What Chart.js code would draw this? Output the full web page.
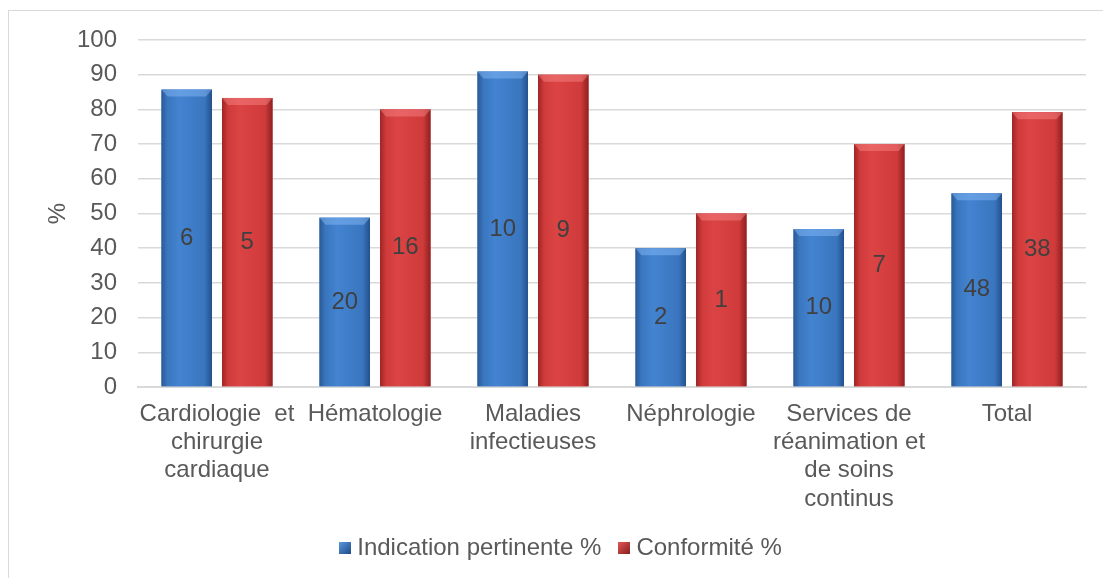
<!DOCTYPE html>
<html>
<head>
<meta charset="utf-8">
<script src="https://cdn.jsdelivr.net/npm/chart.js@4/dist/chart.umd.min.js"></script>
<style>
  html, body { margin: 0; padding: 0; background: #fff; }
  #frame { position: absolute; left: 8px; top: 10px; width: 1100px; height: 580px; border: 1px solid #d9d9d9; box-sizing: border-box; }
  #wrap { position: absolute; left: 0; top: 0; width: 1103px; height: 578px; }
</style>
</head>
<body>
<div id="frame"></div>
<div id="wrap"><canvas id="chart"></canvas></div>
<script>
// services
const categories = [
  ['Cardiologie  et', 'chirurgie', 'cardiaque'],
  ['Hématologie'],
  ['Maladies', 'infectieuses'],
  ['Néphrologie'],
  ['Services de', 'réanimation et', 'de soins', 'continus'],
  ['Total']
];
// percentages
const indicationPct = [85.7, 48.8, 90.9, 40, 45.5, 55.8];
const conformitePct = [83.3, 80, 90, 50, 70, 79.2];
// counts printed inside the bars
const indicationN = [6, 20, 10, 2, 10, 48];
const conformiteN = [5, 16, 9, 1, 7, 38];
const yTicks = [0, 10, 20, 30, 40, 50, 60, 70, 80, 90, 100];

const FONT = "'Liberation Sans', Arial, sans-serif";
const TEXT = '#595959';
const SIZE = 24;

// bevelled look on top of each bar
const bevelBars = {
  id: 'bevelBars',
  afterDatasetsDraw(chart) {
    const ctx = chart.ctx;
    const shades = [
      ['#2a5a96', '#4383d0', '#3a76bf', '#23508a'],
      ['#9e2626', '#dc4444', '#cf3a3a', '#8e2020']
    ];
    chart.data.datasets.forEach((ds, i) => {
      const meta = chart.getDatasetMeta(i);
      const s = shades[i];
      meta.data.forEach(bar => {
        const x0 = bar.x - bar.width / 2, x1 = bar.x + bar.width / 2;
        const top = bar.y, bottom = bar.base;
        const g = ctx.createLinearGradient(x0, 0, x1, 0);
        g.addColorStop(0, s[0]);
        g.addColorStop(0.12, s[2]);
        g.addColorStop(0.35, s[1]);
        g.addColorStop(0.85, s[2]);
        g.addColorStop(1, s[3]);
        ctx.save();
        ctx.fillStyle = g;
        ctx.fillRect(x0, top, x1 - x0, bottom - top);
        // top bevel
        ctx.beginPath();
        ctx.moveTo(x0, top);
        ctx.lineTo(x1, top);
        ctx.lineTo(x1 - 6, top + 7);
        ctx.lineTo(x0 + 6, top + 7);
        ctx.closePath();
        ctx.fillStyle = i === 0 ? 'rgba(140,190,250,0.45)' : 'rgba(250,140,140,0.45)';
        ctx.fill();
        ctx.restore();
      });
    });
  }
};

// counts written in the middle of the bars
const barCounts = {
  id: 'barCounts',
  afterDatasetsDraw(chart) {
    const ctx = chart.ctx;
    const counts = [indicationN, conformiteN];
    ctx.save();
    ctx.font = SIZE + 'px ' + FONT;
    ctx.fillStyle = '#404040';
    ctx.textAlign = 'center';
    ctx.textBaseline = 'middle';
    chart.data.datasets.forEach((ds, i) => {
      chart.getDatasetMeta(i).data.forEach((bar, j) => {
        ctx.fillText(String(counts[i][j]), bar.x, (bar.y + bar.base) / 2);
      });
    });
    ctx.restore();
  }
};

function legendBox(color1, color2) {
  const c = document.createElement('canvas');
  c.width = 12; c.height = 12;
  const x = c.getContext('2d');
  const g = x.createLinearGradient(0, 0, 12, 12);
  g.addColorStop(0, color1);
  g.addColorStop(1, color2);
  x.fillStyle = g;
  x.fillRect(0, 0, 12, 12);
  return c;
}

new Chart(document.getElementById('chart'), {
  type: 'bar',
  data: {
    labels: categories,
    datasets: [
      { label: 'Indication pertinente %', data: indicationPct, backgroundColor: '#3a76bf',
        pointStyle: legendBox('#5a9ae0', '#1f4a85') },
      { label: 'Conformité %', data: conformitePct, backgroundColor: '#cf3a3a',
        pointStyle: legendBox('#e05a5a', '#8a1e1e') }
    ]
  },
  options: {
    responsive: true,
    maintainAspectRatio: false,
    animation: false,
    datasets: { bar: { categoryPercentage: 0.766, barPercentage: 0.835 } },
    layout: { padding: { left: 40, right: 17, top: 40, bottom: 8 } },
    scales: {
      x: {
        grid: { display: false, drawTicks: false },
        border: { color: '#d9d9d9', width: 2 },
        ticks: { color: TEXT, font: { family: FONT, size: SIZE, lineHeight: 1.18 }, maxRotation: 0, autoSkip: false, padding: 13 },
        afterFit(axis) { axis.height = 127; }
      },
      y: {
        min: 0, max: 100,
        afterBuildTicks(axis) { axis.ticks = yTicks.map(v => ({ value: v })); },
        grid: { color: '#d9d9d9', lineWidth: 1.5, drawTicks: false },
        border: { display: false },
        ticks: { color: TEXT, font: { family: FONT, size: SIZE }, padding: 21 },
        title: { display: true, text: '%', color: TEXT, font: { family: FONT, size: SIZE }, padding: 4 },
        afterFit(axis) { axis.width = 98; }
      }
    },
    plugins: {
      legend: {
        position: 'bottom',
        labels: {
          usePointStyle: true,
          pointStyleWidth: 1,
          color: TEXT,
          font: { family: FONT, size: SIZE },
          padding: 22
        }
      },
      tooltip: { enabled: false }
    }
  },
  plugins: [bevelBars, barCounts]
});
</script>
</body>
</html>
